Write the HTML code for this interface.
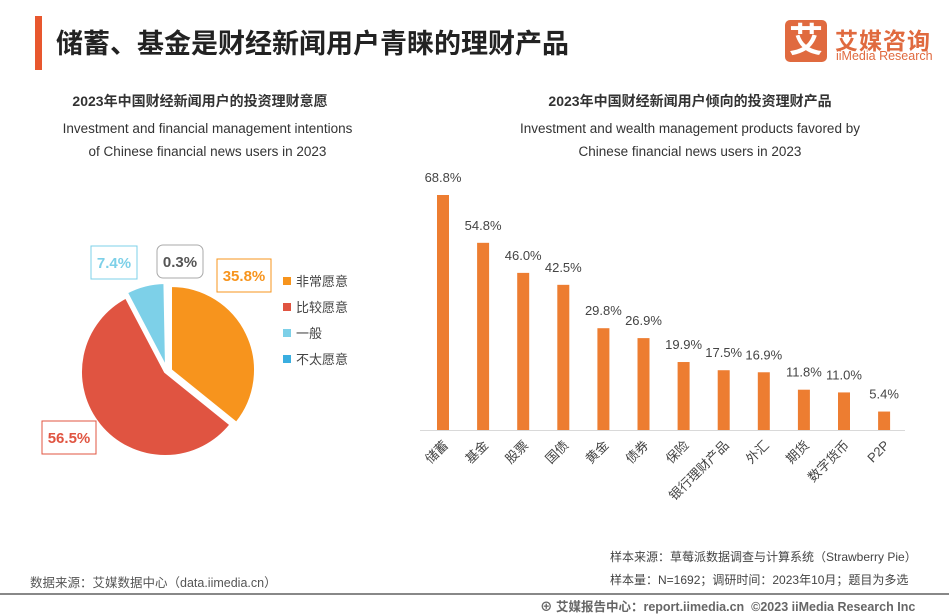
<!DOCTYPE html>
<html><head><meta charset="utf-8">
<style>
body{margin:0;width:949px;height:613px;background:#fff;overflow:hidden;position:relative;font-family:"Liberation Sans","Noto Sans CJK SC",sans-serif;color:#333}
.abs{position:absolute}
</style></head><body>
<div class="abs" style="left:35px;top:16px;width:7px;height:54px;background:#e8572e"></div>
<div class="abs" style="left:56px;top:22px;font-size:27px;font-weight:bold;color:#222">储蓄、基金是财经新闻用户青睐的理财产品</div>
<div class="abs" style="left:785px;top:20px;width:42px;height:42px;background:#e06a3f;border-radius:5px;color:#fff;font-size:34px;font-weight:bold;text-align:center;line-height:42px">艾</div>
<div class="abs" style="left:835px;top:22px;font-size:23px;font-weight:bold;color:#e06a3f;letter-spacing:1px">艾媒咨询</div>
<div class="abs" style="left:836px;top:49px;font-size:12.5px;color:#e06a3f">iiMedia Research</div>

<div class="abs" style="left:0;width:400px;top:90px;text-align:center;font-size:14px;font-weight:bold;line-height:22px">2023年中国财经新闻用户的投资理财意愿</div>
<div class="abs" style="left:0;width:415px;top:117px;text-align:center;font-size:13.5px;line-height:23px">Investment and financial management intentions<br>of Chinese financial news users in 2023</div>
<div class="abs" style="left:470px;width:440px;top:90px;text-align:center;font-size:14px;font-weight:bold;line-height:22px">2023年中国财经新闻用户倾向的投资理财产品</div>
<div class="abs" style="left:470px;width:440px;top:117px;text-align:center;font-size:13.5px;line-height:23px">Investment and wealth management products favored by<br>Chinese financial news users in 2023</div>

<svg class="abs" style="left:0;top:0" width="949" height="613" id="svg"></svg>

<div class="abs" style="left:30px;top:572px;font-size:12.5px;color:#555">数据来源：艾媒数据中心（data.iimedia.cn）</div>
<div class="abs" style="left:610px;top:548px;font-size:12px;color:#444">样本来源：草莓派数据调查与计算系统（Strawberry Pie）</div>
<div class="abs" style="left:610px;top:571px;font-size:12px;color:#444">样本量：N=1692；调研时间：2023年10月；题目为多选</div>
<div class="abs" style="left:0;top:593px;width:949px;height:2px;background:#888"></div>
<div class="abs" style="left:540px;top:596px;font-size:12.5px;font-weight:bold;color:#666">⊕ 艾媒报告中心：report.iimedia.cn &nbsp;©2023 iiMedia Research Inc</div>

<script>
const pieLabels=['非常愿意','比较愿意','一般','不太愿意'];
const pieValues=[35.8,56.5,7.4,0.3];
const pieColors=['#f7941d','#e05441','#7dd0e8','#3aaee0'];
const barCats=['储蓄','基金','股票','国债','黄金','债券','保险','银行理财产品','外汇','期货','数字货币','P2P'];
const barValues=[68.8,54.8,46.0,42.5,29.8,26.9,19.9,17.5,16.9,11.8,11.0,5.4];

const NS='http://www.w3.org/2000/svg';
const svg=document.getElementById('svg');
function mk(t,a){const e=document.createElementNS(NS,t);for(const k in a)e.setAttribute(k,a[k]);svg.appendChild(e);return e;}

// pie
const cx=168,cy=370,R=84;
const total=pieValues.reduce((a,b)=>a+b,0);
let ang=-Math.PI/2;
const offs=[[3,0],[-3,2],[-2,-3],[0,-3]];
pieValues.forEach((v,i)=>{
  const a0=ang,a1=ang+v/total*2*Math.PI;ang=a1;
  const ox=cx+offs[i][0],oy=cy+offs[i][1];
  const large=(a1-a0)>Math.PI?1:0;
  const d=`M${ox},${oy} L${ox+R*Math.cos(a0)},${oy+R*Math.sin(a0)} A${R},${R} 0 ${large} 1 ${ox+R*Math.cos(a1)},${oy+R*Math.sin(a1)} Z`;
  const p=mk('path',{d:d,fill:pieColors[i],stroke:'#fff','stroke-width':2});
  
  
});
const lblPos=[[217,259,'#f7941d'],[42,421,'#e05441'],[91,246,'#7dd0e8'],[157,245,'#555']];
pieValues.forEach((v,i)=>{
  const [x,y,c]=lblPos[i];
  const w=(v>=10?54:46);
  const r=mk('rect',{x:x,y:y,width:w,height:33,fill:'#fff',stroke:i==3?'#aaa':c,'stroke-width':1,rx:i==3?6:0});
  
  
  const t=mk('text',{x:x+w/2,y:y+22,'text-anchor':'middle','font-size':15,'font-weight':'bold',fill:c});
  t.textContent=v.toFixed(1)+'%';
  
  
});
pieLabels.forEach((l,i)=>{
  const y=281+i*26;
  const r=mk('rect',{x:283,y:y-4,width:8,height:8,fill:pieColors[i]});
  
  
  const t=mk('text',{x:296,y:y+5,'font-size':13,fill:'#444'});
  t.textContent=l;
  
  
});

// bars
const x0=443,step=40.1,base=430,scale=235/68.8,bw=12;
const xs=i=>x0+i*step, ys=v=>base-v*scale;
const ax=mk('line',{x1:420,x2:905,y1:base+0.5,y2:base+0.5,stroke:'#d9d9d9'});


barValues.forEach((v,i)=>{
  const r=mk('rect',{x:xs(i)-bw/2,y:ys(v),width:bw,height:base-ys(v),fill:'#ed7d31'});
  
  
  const t=mk('text',{x:xs(i),y:ys(v)-13,'text-anchor':'middle','font-size':13,fill:'#444'});
  t.textContent=v.toFixed(1)+'%';
  
  
  const c=mk('text',{x:xs(i)+6,y:base+16,'text-anchor':'end','font-size':13,fill:'#444',transform:`rotate(-45 ${xs(i)+6} ${base+16})`});
  c.textContent=barCats[i];
  
  
});
</script>
</body></html>
